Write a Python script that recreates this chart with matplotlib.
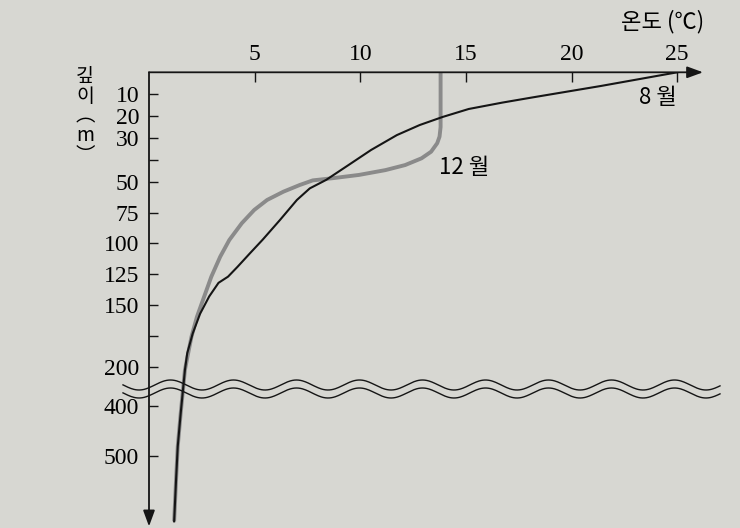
import numpy as np
import matplotlib
matplotlib.use("Agg")
import matplotlib.pyplot as plt
from matplotlib.lines import Line2D

# temperature profiles (temperature in C, depth in m)
aug_depth = [0, 6.26, 11.56, 13.85, 16.77, 20.43, 24.1, 28.7, 35.5, 42.4, 49.2, 55.4,
             64.8, 81, 97, 108, 119, 127, 132, 143, 157, 173, 189, 217, 415, 481, 548,
             630]
aug_temp = [25.0, 21.38, 18.1, 16.72, 15.13, 13.89, 12.81, 11.73, 10.51, 9.44, 8.38,
            7.61, 7.0, 6.2, 5.38, 4.78, 4.19, 3.74, 3.29, 2.85, 2.42, 2.07, 1.81, 1.70,
            1.50, 1.36, 1.28, 1.19]

dec_depth = [0, 25, 29.4, 32.4, 36.3, 39.3, 42.4, 44.7, 46.9, 48.4, 49.4, 52.7, 58.1,
             64.8, 72.9, 83.7, 97.3, 110.8, 127, 143.2, 159.5, 175.7, 191.9, 217, 415,
             481, 548, 630]
dec_temp = [13.8, 13.8, 13.75, 13.64, 13.35, 12.9, 12.12, 11.19, 9.94, 8.69, 7.75, 7.13,
            6.36, 5.59, 4.98, 4.39, 3.80, 3.37, 2.95, 2.61, 2.27, 2.01, 1.82, 1.70, 1.50,
            1.36, 1.28, 1.19]

x_ticks = [5, 10, 15, 20, 25]
y_ticks = [10, 20, 30, 40, 50, 75, 100, 125, 150, 175, 200, 400, 500]
y_labels = ["10", "20", "30", "", "50", "75", "100", "125", "150", "", "200", "400", "500"]

# broken depth axis: piecewise linear spacing
knot_depth = [0, 50, 200, 400, 500, 640]
knot_pos = [0, 109.4, 294.4, 333.4, 383.7, 454.1]


def forward(d):
    return np.interp(np.asarray(d, dtype=float), knot_depth, knot_pos)


def inverse(p):
    return np.interp(np.asarray(p, dtype=float), knot_pos, knot_depth)


bg = "#d7d7d2"
ink = "#151515"
W, H = 740, 528
fig = plt.figure(figsize=(7.4, 5.28), dpi=100, facecolor=bg)

left, top_px, right_px, bot_px = 149, 72.3, 703, 526.4
ax = fig.add_axes([left / W, 1 - bot_px / H, (right_px - left) / W, (bot_px - top_px) / H])
ax.set_facecolor(bg)
ax.set_yscale("function", functions=(forward, inverse))
ax.set_xlim(0, (right_px - left) / 21.13)
ax.set_ylim(640, 0)

for s in ax.spines.values():
    s.set_visible(False)

ax.plot(dec_temp, dec_depth, color="#8a8a8a", lw=2.8, solid_joinstyle="round",
        solid_capstyle="butt")
ax.plot(aug_temp, aug_depth, color=ink, lw=1.5, solid_joinstyle="round")

num_font = "Liberation Serif"
ax.xaxis.tick_top()
ax.set_xticks(x_ticks)
ax.set_xticklabels([str(t) for t in x_ticks], fontsize=17, family=num_font)
ax.tick_params(axis="x", direction="in", length=7.5, width=1, pad=5, color=ink)

ax.set_yticks(y_ticks)
ax.set_yticklabels(y_labels, fontsize=17, family=num_font)
ax.yaxis.set_minor_locator(matplotlib.ticker.NullLocator())
ax.tick_params(axis="y", direction="in", length=6.5, width=1, pad=7, color=ink)

# axis arrows
arrow = dict(arrowstyle="-|>,head_length=0.6,head_width=0.22", color=ink, lw=1.3,
             mutation_scale=16, shrinkA=0, shrinkB=0)
ax.annotate("", xy=(1, 1), xytext=(0, 1), xycoords="axes fraction", arrowprops=arrow,
            annotation_clip=False)
ax.annotate("", xy=(0, 0), xytext=(0, 1), xycoords="axes fraction", arrowprops=arrow,
            annotation_clip=False)

kr = ["Noto Sans CJK KR", "DejaVu Sans"]
ax.text(24.1, 11.7, "8 월", fontsize=16, family=kr, ha="center", va="center")
ax.text(14.9, 43.3, "12 월", fontsize=16, family=kr, ha="center", va="center")
fig.text(663 / W, 1 - 22 / H, "온도 (℃)", fontsize=16, family=kr, ha="center", va="center")

# vertical axis title: 깊이 (m) written top to bottom
fig.text(85 / W, 1 - 116 / H, "깊\n이\n︵\nm\n︶", fontsize=14, family=kr,
         ha="center", va="center", multialignment="center", linespacing=0.92)

# wavy break lines across the depth axis
xs = np.linspace(123, 720, 600)
for yc in (385, 393):
    ys = yc - 5 * np.cos(2 * np.pi * (xs - 170.5) / 63)
    fig.add_artist(Line2D(xs / W, 1 - ys / H, color=ink, lw=1.0, transform=fig.transFigure))

fig.savefig("out.png", dpi=100, facecolor=bg)
